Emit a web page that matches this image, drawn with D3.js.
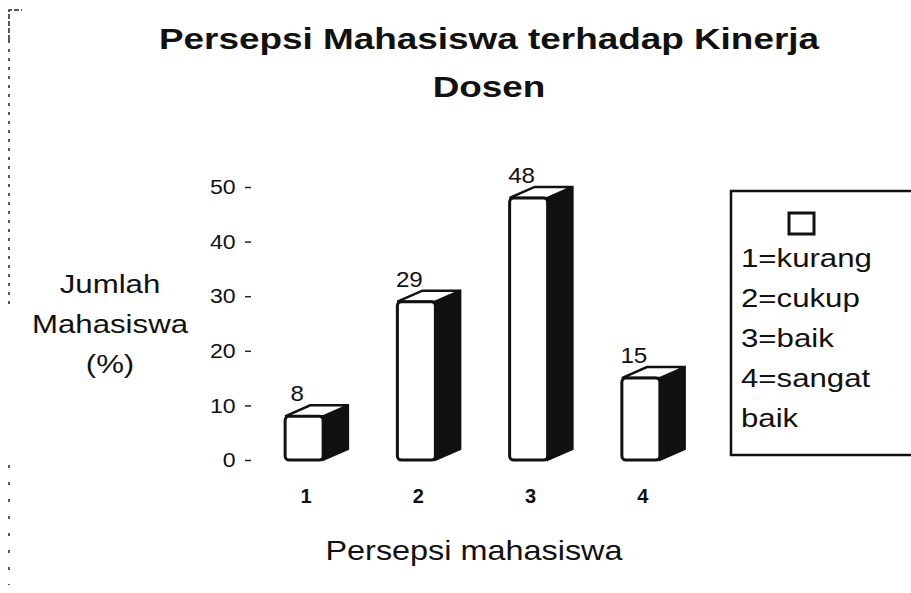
<!DOCTYPE html>
<html>
<head>
<meta charset="utf-8">
<script src="https://cdn.jsdelivr.net/npm/d3@7"></script>
<style>
  html, body { margin: 0; padding: 0; background: #fff; }
  svg { display: block; }
  text { font-family: "Liberation Sans", Arial, Helvetica, sans-serif; fill: #111; }
</style>
</head>
<body>
<div id="chart"></div>
<script>
// chart data
const categories = ['1', '2', '3', '4'];
const values = [8, 29, 48, 15];
const yTicks = [0, 10, 20, 30, 40, 50];
const legendLabels = ['1=kurang', '2=cukup', '3=baik', '4=sangat', 'baik'];
const titleLines = ['Persepsi Mahasiswa terhadap Kinerja', 'Dosen'];
const yTitleLines = ['Jumlah', 'Mahasiswa', '(%)'];
const xTitle = 'Persepsi mahasiswa';

const width = 911;
const height = 593;

const svg = d3.select('#chart')
  .append('svg')
  .attr('width', width)
  .attr('height', height);

const x = d3.scalePoint().domain(categories).range([248, 697]).padding(0.5);
const y = d3.scaleLinear().domain([0, 50]).range([460, 187]);

const barW = 38;   // front face width
const dx = 25;     // 3d depth
const dy = 11;

// the scan looks stretched sideways, so text gets a small x scale
function label(parent, str, px, py, size, opts = {}) {
  return parent.append('text')
    .attr('transform', `translate(${px},${py}) scale(${opts.sx || 1.2},1)`)
    .attr('text-anchor', opts.anchor || 'middle')
    .style('font-size', size + 'px')
    .style('font-weight', opts.bold ? 'bold' : 'normal')
    .text(str);
}

// scan border on the left
const border = svg.append('g').attr('stroke', '#222').attr('fill', 'none');
border.append('path')
  .attr('d', 'M9,40 L9,10 L22,10')
  .attr('stroke-width', 1.5)
  .attr('stroke-dasharray', '5,2');
border.append('path')
  .attr('d', 'M9,40 L9,310')
  .attr('stroke-width', 1.5)
  .attr('stroke-dasharray', '3,6');
border.append('path')
  .attr('d', 'M9,465 L9,585')
  .attr('stroke-width', 1.5)
  .attr('stroke-dasharray', '3,14');

// title
titleLines.forEach((t, i) => label(svg, t, 489, 49 + i * 48, 30, { bold: true, sx: 1.23 }));

// y axis
const yAxis = svg.append('g')
  .attr('transform', 'translate(251,0)')
  .call(d3.axisLeft(y).tickValues(yTicks).tickSize(6).tickPadding(8));
yAxis.select('.domain').remove();
yAxis.selectAll('.tick line').attr('stroke', '#222').attr('stroke-width', 1.5);
yAxis.selectAll('.tick text')
  .attr('fill', '#111')
  .style('font-size', '21px')
  .style('font-family', '"Liberation Sans", Arial, sans-serif')
  .attr('transform', 'scale(1.1,1)');

yTitleLines.forEach((t, i) => label(svg, t, 110, 293 + i * 40, 26));

// bars
const bars = svg.append('g').selectAll('g.bar')
  .data(values)
  .join('g')
  .attr('class', 'bar');

bars.each(function (v, i) {
  const g = d3.select(this);
  const x0 = x(categories[i]) - barW / 2;
  const x1 = x0 + barW;
  const yt = y(v);
  const yb = y(0);

  // side face
  g.append('path')
    .attr('d', `M${x1},${yt} L${x1 + dx},${yt - dy} L${x1 + dx},${yb - dy} L${x1},${yb} Z`)
    .attr('fill', '#111')
    .attr('stroke', '#111')
    .attr('stroke-width', 2);

  // top face
  g.append('path')
    .attr('d', `M${x0},${yt} L${x0 + dx},${yt - dy} L${x1 + dx},${yt - dy} L${x1},${yt} Z`)
    .attr('fill', '#fff')
    .attr('stroke', '#111')
    .attr('stroke-width', 2.5);

  // front face
  g.append('rect')
    .attr('x', x0)
    .attr('y', yt)
    .attr('width', barW)
    .attr('height', yb - yt)
    .attr('rx', 4)
    .attr('fill', '#fff')
    .attr('stroke', '#111')
    .attr('stroke-width', 3);

  label(g, v, x(categories[i]) - 7, yt - dy - 4, 22, { sx: 1.1 });
});

// x tick labels
categories.forEach(c => label(svg, c, x(c) + 2, 503, 20, { bold: true, sx: 1.0 }));

label(svg, xTitle, 474, 560, 27, { sx: 1.2 });

// legend
const legend = svg.append('g');
legend.append('rect')
  .attr('x', 731)
  .attr('y', 191)
  .attr('width', 200)
  .attr('height', 264)
  .attr('fill', '#fff')
  .attr('stroke', '#111')
  .attr('stroke-width', 2.5);
legend.append('rect')
  .attr('x', 789)
  .attr('y', 213)
  .attr('width', 25)
  .attr('height', 21)
  .attr('fill', '#fff')
  .attr('stroke', '#111')
  .attr('stroke-width', 3);
legendLabels.forEach((t, i) => label(legend, t, 741, 267 + i * 40, 26, { anchor: 'start', sx: 1.2 }));
</script>
</body>
</html>
